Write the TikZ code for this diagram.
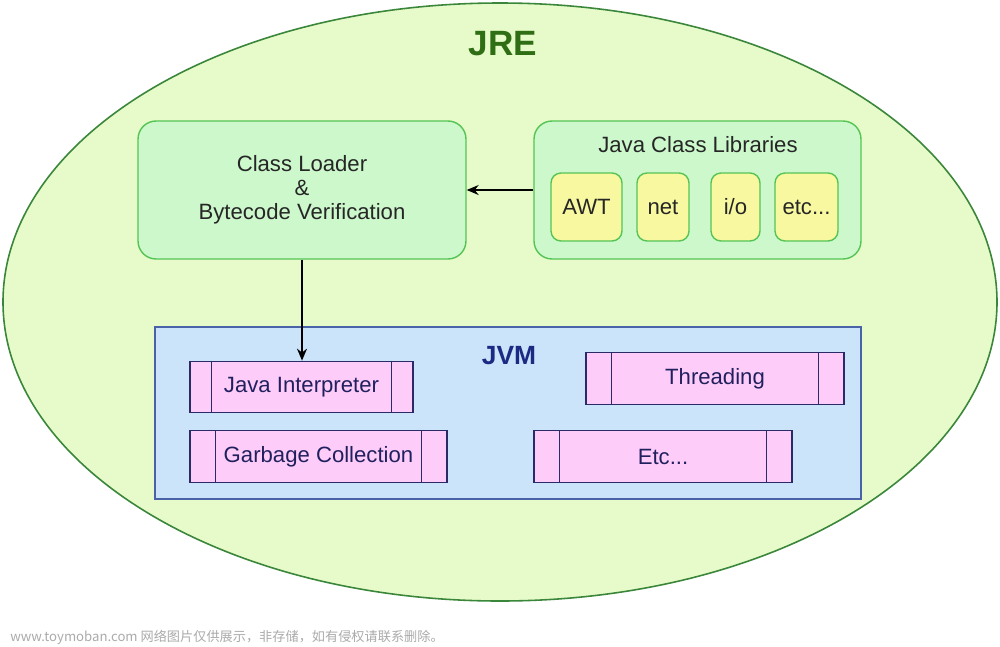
\documentclass[tikz,border=0pt]{standalone}
\usepackage{fontspec}
\setmainfont{Liberation Sans}
\newfontfamily\cjk{Noto Sans CJK SC}
\usetikzlibrary{arrows.meta,calc}
\definecolor{jrefill}{HTML}{E6FBC9}
\definecolor{jredraw}{HTML}{3A863A}
\definecolor{jretext}{HTML}{2F6E14}
\definecolor{gbfill}{HTML}{CCF8CC}
\definecolor{gbdraw}{HTML}{55C455}
\definecolor{ybfill}{HTML}{F8F8A0}
\definecolor{jvmfill}{HTML}{CCE4FA}
\definecolor{jvmdraw}{HTML}{4A62A8}
\definecolor{jvmtext}{HTML}{1C2A84}
\definecolor{pkfill}{HTML}{FDCCF8}
\definecolor{pkdraw}{HTML}{2A2A66}
\definecolor{pktext}{HTML}{20205E}
\definecolor{wmtext}{HTML}{ABABAB}
\tikzset{
  greenbox/.style={draw=gbdraw, fill=gbfill, line width=0.8pt, rounded corners=0.36cm, inner sep=0pt},
  yellowbox/.style={draw=gbdraw, fill=ybfill, line width=0.8pt, rounded corners=0.2cm, minimum height=1.36cm, inner sep=0pt, font=\fontsize{12.6}{14}\selectfont, text=black!85},
  procbox/.style={draw=pkdraw, fill=pkfill, line width=0.7pt, inner sep=0pt, minimum height=1.03cm, font=\fontsize{12.6}{14}\selectfont, text=pktext},
  arr/.style={line width=0.8pt, -{Stealth[length=2.4mm,width=2mm]}},
  bodytext/.style={font=\fontsize{12.6}{13.6}\selectfont, text=black!85, align=center}
}
\newcommand{\procsides}[2]{%
  \draw[pkdraw, line width=0.7pt] ([xshift=#2]#1.north west) -- ([xshift=#2]#1.south west);
  \draw[pkdraw, line width=0.7pt] ([xshift=-#2]#1.north east) -- ([xshift=-#2]#1.south east);}
\begin{document}
\begin{tikzpicture}[x=0.02cm, y=-0.02cm]
\useasboundingbox[fill=white] (0,0) rectangle (1000,646);
% JRE ellipse
\draw[jredraw, fill=jrefill, line width=0.9pt] (500,302) ellipse [x radius=497, y radius=299];
\node[font=\bfseries\fontsize{20}{24}\selectfont, text=jretext] (jre) at (503,44) {JRE};
% Class loader
\node[greenbox, minimum width=6.56cm, minimum height=2.76cm, bodytext] (cl) at (302,190)
  {Class Loader\\\&\\Bytecode Verification};
% Java class libraries
\node[greenbox, minimum width=6.54cm, minimum height=2.76cm] (jcl) at (697.5,190) {};
\node[bodytext] (jcltitle) at (698,145) {Java Class Libraries};
\node[yellowbox, minimum width=1.42cm] (awt) at (586.5,207) {AWT};
\node[yellowbox, minimum width=1.04cm] (net) at (663,207) {net};
\node[yellowbox, minimum width=0.98cm] (io) at (735.5,207) {i/o};
\node[yellowbox, minimum width=1.26cm] (etc) at (806.5,207) {etc...};
% JVM
\node[draw=jvmdraw, fill=jvmfill, line width=0.8pt, minimum width=14.12cm, minimum height=3.44cm, inner sep=0pt] (jvm) at (508,413) {};
\node[font=\bfseries\fontsize{15}{17}\selectfont, text=jvmtext] (jvmtitle) at (509,356) {JVM};
\node[procbox, minimum width=4.46cm] (ji) at (301.5,387) {Java Interpreter};
\node[procbox, minimum width=5.16cm] (th) at (715,378.5) {Threading};
\node[procbox, minimum width=5.14cm] (gc) at (318.5,456.5) {Garbage Collection};
\node[procbox, minimum width=5.16cm] (et) at (663,456.5) {Etc...};
\procsides{ji}{0.44cm}
\procsides{th}{0.52cm}
\procsides{gc}{0.52cm}
\procsides{et}{0.52cm}
% connectors
\draw[arr] (jcl.west) -- (cl.east);
\draw[arr] (cl.south) -- (cl.south |- ji.north);
% watermark
\node[anchor=west, font=\cjk\fontsize{7.5}{9}\selectfont, text=wmtext, inner sep=0pt] (wm) at (10,637) {www.toymoban.com 网络图片仅供展示，非存储，如有侵权请联系删除。};
\end{tikzpicture}
\end{document}
